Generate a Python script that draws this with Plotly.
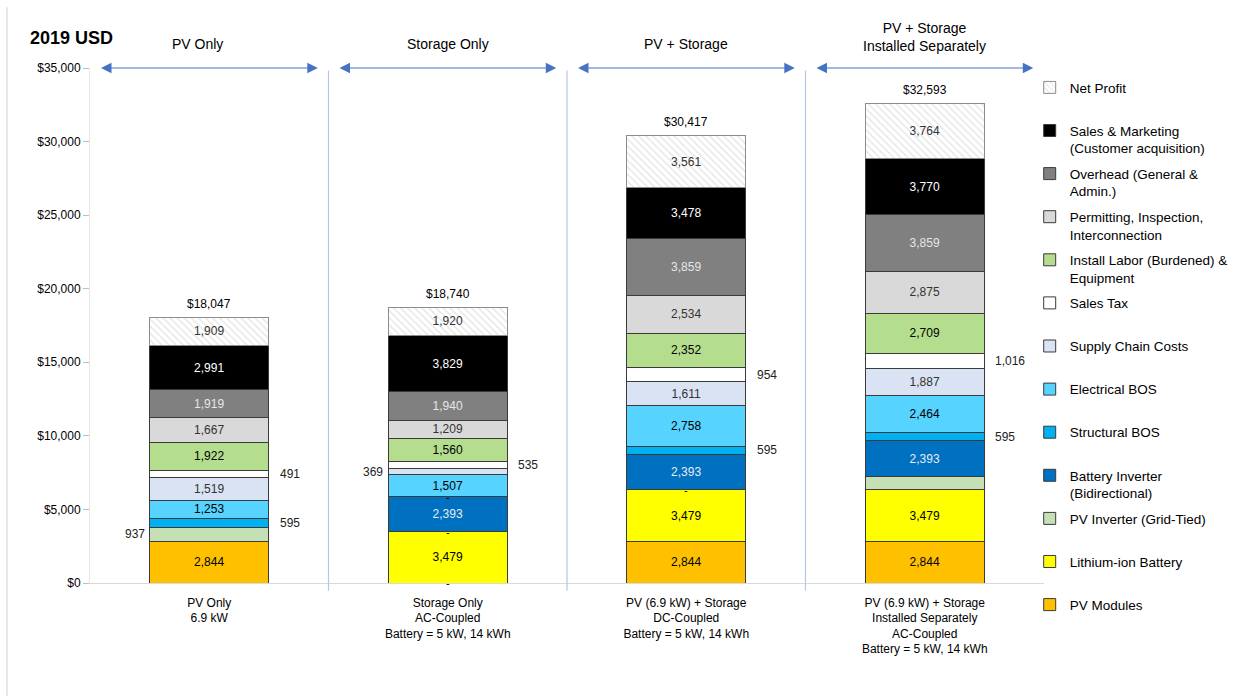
import plotly.graph_objects as go

# Cost breakdown per system configuration (2019 USD)
categories = [
    "PV Only<br>6.9 kW",
    "Storage Only<br>AC-Coupled<br>Battery = 5 kW, 14 kWh",
    "PV (6.9 kW) + Storage<br>DC-Coupled<br>Battery = 5 kW, 14 kWh",
    "PV (6.9 kW) + Storage<br>Installed Separately<br>AC-Coupled<br>Battery = 5 kW, 14 kWh",
]
headers = ["PV Only", "Storage Only", "PV + Storage", "PV + Storage<br>Installed Separately"]
totals = [18047, 18740, 30417, 32593]

# Components, bottom of the stack first
pv_modules = [2844, 0, 2844, 2844]
li_battery = [0, 3479, 3479, 3479]
pv_inverter = [937, 0, 0, 937]
battery_inverter = [0, 2393, 2393, 2393]
structural_bos = [595, 0, 595, 595]
electrical_bos = [1253, 1507, 2758, 2464]
supply_chain = [1519, 369, 1611, 1887]
sales_tax = [491, 535, 954, 1016]
install_labor = [1922, 1560, 2352, 2709]
permitting = [1667, 1209, 2534, 2875]
overhead = [1919, 1940, 3859, 3859]
sales_marketing = [2991, 3829, 3478, 3770]
net_profit = [1909, 1920, 3561, 3764]

series = [
    ("PV Modules", pv_modules, "#FFC000", "#000000"),
    ("Lithium-ion Battery", li_battery, "#FFFF00", "#000000"),
    ("PV Inverter (Grid-Tied)", pv_inverter, "#C5E0B4", "#000000"),
    ("Battery Inverter<br>(Bidirectional)", battery_inverter, "#0070C0", "#E8ECF4"),
    ("Structural BOS", structural_bos, "#00B0F0", "#000000"),
    ("Electrical BOS", electrical_bos, "#57D3FF", "#000000"),
    ("Supply Chain Costs", supply_chain, "#DAE3F3", "#333333"),
    ("Sales Tax", sales_tax, "#FFFFFF", "#000000"),
    ("Install Labor (Burdened) &<br>Equipment", install_labor, "#B4DD8E", "#000000"),
    ("Permitting, Inspection,<br>Interconnection", permitting, "#D9D9D9", "#333333"),
    ("Overhead (General &<br>Admin.)", overhead, "#808080", "#E6E6E6"),
    ("Sales & Marketing<br>(Customer acquisition)", sales_marketing, "#000000", "#FFFFFF"),
    ("Net Profit", net_profit, "#FFFFFF", "#333333"),
]

# Segments whose value is written beside the bar instead of inside it
side_labels = [
    ("PV Inverter (Grid-Tied)", 0, "left"),
    ("Structural BOS", 0, "right"),
    ("Sales Tax", 0, "right"),
    ("Supply Chain Costs", 1, "left"),
    ("Sales Tax", 1, "right"),
    ("Structural BOS", 2, "right"),
    ("Sales Tax", 2, "right"),
    ("Structural BOS", 3, "right"),
    ("Sales Tax", 3, "right"),
]
unlabeled = [("PV Inverter (Grid-Tied)", 3)]
# Zero-valued components shown with a dash
zero_dashes = [("PV Modules", 1), ("PV Inverter (Grid-Tied)", 1),
               ("Structural BOS", 1), ("PV Inverter (Grid-Tied)", 2)]

FONT = "Liberation Sans, Arial, sans-serif"
BAR_W = 0.5
x = list(range(len(categories)))

fig = go.Figure()
side_set = {(n, i) for n, i, _ in side_labels}
hidden = side_set | set(unlabeled)

for k, (name, vals, color, tcolor) in enumerate(series):
    texts = []
    for i, v in enumerate(vals):
        if v == 0 or (name, i) in hidden:
            texts.append("")
        else:
            texts.append(f"{v:,}")
    is_profit = name == "Net Profit"
    marker = dict(
        color=color,
        line=dict(color="#8C8C8C" if is_profit else "#3A3A3A", width=1),
    )
    if is_profit:
        marker["pattern"] = dict(shape="\\", fgcolor="#C8C8C8", bgcolor="#FFFFFF",
                                 size=5, solidity=0.25)
    # every legend entry spans two lines so the entries sit evenly spaced
    legend_name = name if "<br>" in name else name + "<br> "
    fig.add_trace(go.Bar(
        x=x, y=vals, name=legend_name, width=BAR_W,
        marker=marker,
        text=texts, textposition="inside", insidetextanchor="middle",
        textangle=0, constraintext="none",
        textfont=dict(family=FONT, size=12, color=tcolor),
        legendgroup=name, legendrank=1000 - k, hoverinfo="name+y",
    ))

# Cumulative bases for positioning the outside labels and dashes
lookup = {name: vals for name, vals, _, _ in series}
order = [name for name, _, _, _ in series]


def base_of(name, i):
    idx = order.index(name)
    return sum(lookup[n][i] for n in order[:idx])


annotations = []
for name, i, side in side_labels:
    v = lookup[name][i]
    mid = base_of(name, i) + v / 2
    if side == "right":
        annotations.append(dict(x=i + BAR_W / 2, y=mid, xref="x", yref="y",
                                text=f"{v:,}", showarrow=False, xanchor="left", xshift=9,
                                font=dict(family=FONT, size=12, color="#222222")))
    else:
        annotations.append(dict(x=i - BAR_W / 2, y=mid, xref="x", yref="y",
                                text=f"{v:,}", showarrow=False, xanchor="right", xshift=-3,
                                font=dict(family=FONT, size=12, color="#222222")))

for name, i in zero_dashes:
    annotations.append(dict(x=i, y=base_of(name, i), xref="x", yref="y", text="-",
                            showarrow=False, font=dict(family=FONT, size=11, color="#000000")))

for i, t in enumerate(totals):
    annotations.append(dict(x=i, y=t, xref="x", yref="y", text=f"${t:,}",
                            showarrow=False, yanchor="bottom", yshift=4,
                            font=dict(family=FONT, size=12, color="#000000")))

# Section headers and double-headed arrows
header_dx = [-0.05, 0, 0, 0]
for i, h in enumerate(headers):
    annotations.append(dict(x=i + header_dx[i], y=1.047 if "<br>" not in h else 1.06,
                            xref="x", yref="paper",
                            text=h, showarrow=False, yanchor="middle",
                            font=dict(family=FONT, size=14, color="#000000")))
    annotations.append(dict(x=i + 0.455, y=35000, ax=i - 0.46, ay=35000,
                            xref="x", yref="y", axref="x", ayref="y",
                            text="", showarrow=True, arrowside="end+start",
                            arrowhead=2, arrowsize=1.9, arrowwidth=1.1,
                            arrowcolor="#4472C4", standoff=0, startstandoff=0))

annotations.append(dict(x=-0.065, y=1.058, xref="paper", yref="paper", text="<b>2019 USD</b>",
                        showarrow=False, xanchor="left", yanchor="middle",
                        font=dict(family=FONT, size=18, color="#000000")))

shapes = []
for b in [0.5, 1.5, 2.5]:
    shapes.append(dict(type="line", xref="x", yref="paper", x0=b, x1=b, y0=-0.015, y1=0.995,
                       line=dict(color="#B4C7E7", width=1.2)))
shapes.append(dict(type="line", xref="paper", yref="paper", x0=-0.087, x1=-0.087,
                   y0=-0.22, y1=1.118, line=dict(color="#CFCFCF", width=1)))

fig.update_layout(
    barmode="stack",
    width=1250, height=696,
    margin=dict(l=90, r=206, t=68, b=113),
    paper_bgcolor="#FFFFFF", plot_bgcolor="#FFFFFF",
    font=dict(family=FONT, size=12, color="#000000"),
    annotations=annotations,
    shapes=shapes,
    showlegend=True,
    legend=dict(
        x=0.985, xanchor="left", y=0.992, yanchor="top",
        traceorder="grouped", tracegroupgap=5, valign="top",
        maxheight=640,
        font=dict(family=FONT, size=13.5, color="#000000"),
        bgcolor="rgba(0,0,0,0)", borderwidth=0,
    ),
)

fig.update_xaxes(
    tickmode="array", tickvals=x, ticktext=categories,
    range=[-0.5, 3.5], showgrid=False, zeroline=False,
    showline=True, linecolor="#D9D9D9", linewidth=1.2,
    ticks="", ticklabelstandoff=8,
    tickfont=dict(family=FONT, size=12, color="#000000"),
)
fig.update_yaxes(
    range=[0, 35000], dtick=5000, tickprefix="$", tickformat=",",
    showgrid=False, zeroline=False,
    showline=True, linecolor="#E6E6E6", linewidth=1,
    ticks="outside", ticklen=6, tickcolor="#BFBFBF",
    tickfont=dict(family=FONT, size=12, color="#000000"),
)

fig.write_html("out.html")
